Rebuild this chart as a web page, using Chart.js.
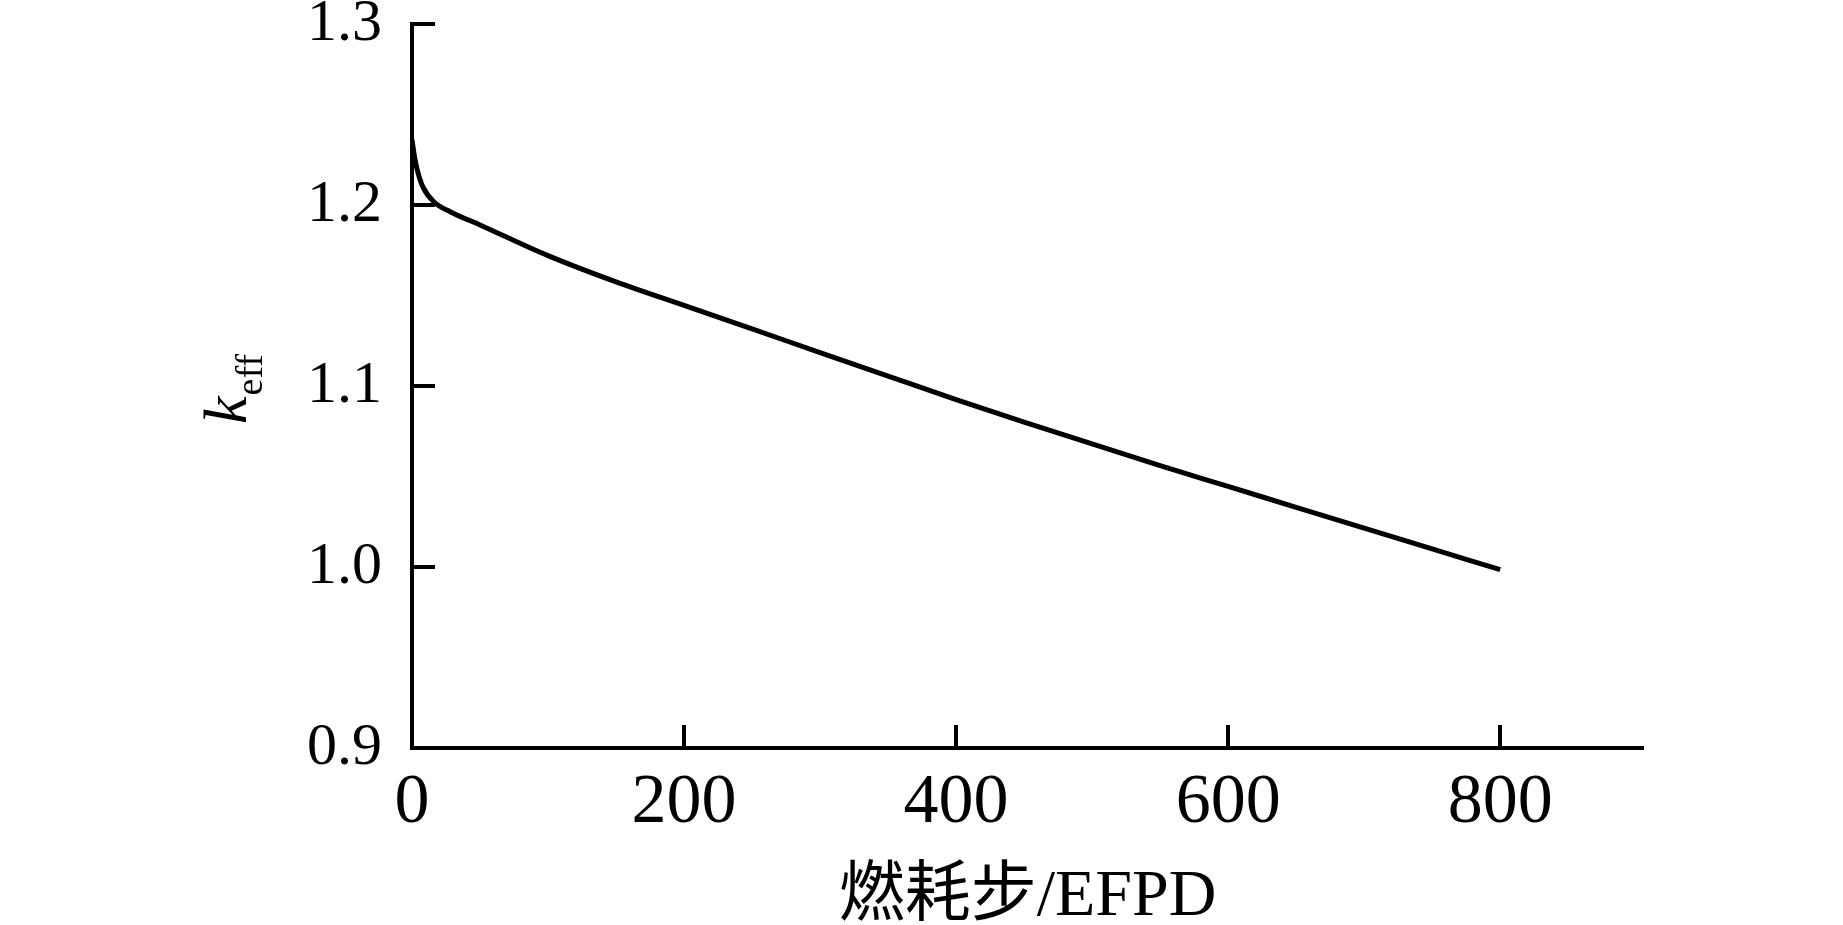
<!DOCTYPE html>
<html>
<head>
<meta charset="utf-8">
<script src="https://cdn.jsdelivr.net/npm/chart.js@4/dist/chart.umd.min.js"></script>
<style>
  html, body { margin: 0; padding: 0; background: #ffffff; }
  #wrap { width: 1843px; height: 925px; }
</style>
</head>
<body>
<div id="wrap"><canvas id="c" width="1843" height="925"></canvas></div>
<script>
// ---- data ----
const days = [0, 2, 4, 8, 16, 28, 50, 100, 150, 200, 250, 300, 350, 400, 450, 500, 550, 600, 650, 700, 750, 800];
const keff = [1.236, 1.226, 1.219, 1.210, 1.2018, 1.1963, 1.189, 1.172, 1.1575, 1.1445, 1.1315, 1.1185, 1.1055, 1.0925, 1.080, 1.068, 1.056, 1.0445, 1.033, 1.0215, 1.010, 0.9985];
const xTickValues = [0, 200, 400, 600, 800];
const yTickValues = [0.9, 1.0, 1.1, 1.2, 1.3];
const xTitle = '燃耗步/EFPD';
const yTitleMain = 'k';
const yTitleSub = 'eff';

const points = days.map((d, i) => ({ x: d, y: keff[i] }));

const inwardTicks = {
  id: 'inwardTicks',
  afterDraw(chart) {
    const ctx = chart.ctx;
    const xs = chart.scales.x, ys = chart.scales.y;
    const area = chart.chartArea;
    const len = 23;
    ctx.save();
    ctx.strokeStyle = '#000';
    ctx.lineWidth = 4;
    ctx.lineCap = 'butt';
    xs.ticks.forEach(t => {
      if (t.value === 0) return;
      const px = Math.round(xs.getPixelForValue(t.value));
      ctx.beginPath();
      ctx.moveTo(px, area.bottom);
      ctx.lineTo(px, area.bottom - len);
      ctx.stroke();
    });
    ys.ticks.forEach(t => {
      if (Math.abs(t.value - 0.9) < 1e-9) return;
      const py = Math.round(ys.getPixelForValue(t.value));
      ctx.beginPath();
      ctx.moveTo(area.left, py);
      ctx.lineTo(area.left + len, py);
      ctx.stroke();
    });
    // y axis title with subscript
    ctx.fillStyle = '#000';
    ctx.translate(246, 424);
    ctx.rotate(-Math.PI / 2);
    ctx.textBaseline = 'alphabetic';
    ctx.textAlign = 'left';
    ctx.font = 'italic 62px "Liberation Serif", serif';
    ctx.fillText(yTitleMain, 0, 0);
    const kw = ctx.measureText(yTitleMain).width;
    ctx.font = '38px "Liberation Serif", serif';
    ctx.fillText(yTitleSub, kw + 1, 16);
    ctx.restore();
  }
};

new Chart(document.getElementById('c'), {
  type: 'line',
  data: {
    datasets: [{
      data: points,
      borderColor: '#000',
      borderWidth: 5,
      pointRadius: 0,
      fill: false,
      cubicInterpolationMode: 'monotone'
    }]
  },
  options: {
    responsive: false,
    animation: false,
    events: [],
    layout: { autoPadding: false, padding: { top: 24, right: 200, left: 0, bottom: 0 } },
    plugins: { legend: { display: false }, tooltip: { enabled: false } },
    scales: {
      x: {
        type: 'linear',
        min: 0,
        max: 905,
        afterBuildTicks: s => { s.ticks = xTickValues.map(v => ({ value: v })); },
        afterFit: s => { s.height = 177; },
        grid: { display: false, drawTicks: false },
        border: { display: true, color: '#000', width: 4 },
        ticks: {
          color: '#000',
          font: { family: '"Liberation Serif", serif', size: 70 },
          padding: 14,
          maxRotation: 0,
          callback: v => String(v)
        },
        title: {
          display: true,
          text: xTitle,
          color: '#000',
          font: { family: '"Liberation Serif", "Noto Sans CJK SC", serif', size: 66, lineHeight: 0.8 },
          padding: { top: 0, bottom: 1 }
        }
      },
      y: {
        type: 'linear',
        min: 0.9,
        max: 1.3,
        afterBuildTicks: s => { s.ticks = yTickValues.map(v => ({ value: v })); },
        afterFit: s => { s.width = 412; s.paddingTop = 0; s.paddingBottom = 0; },
        grid: { display: false, drawTicks: false },
        border: { display: true, color: '#000', width: 4 },
        ticks: {
          color: '#000',
          font: { family: '"Liberation Serif", serif', size: 60, lineHeight: 0.05 },
          padding: 30,
          callback: v => Number(v).toFixed(1)
        }
      }
    }
  },
  plugins: [inwardTicks]
});
</script>
</body>
</html>
